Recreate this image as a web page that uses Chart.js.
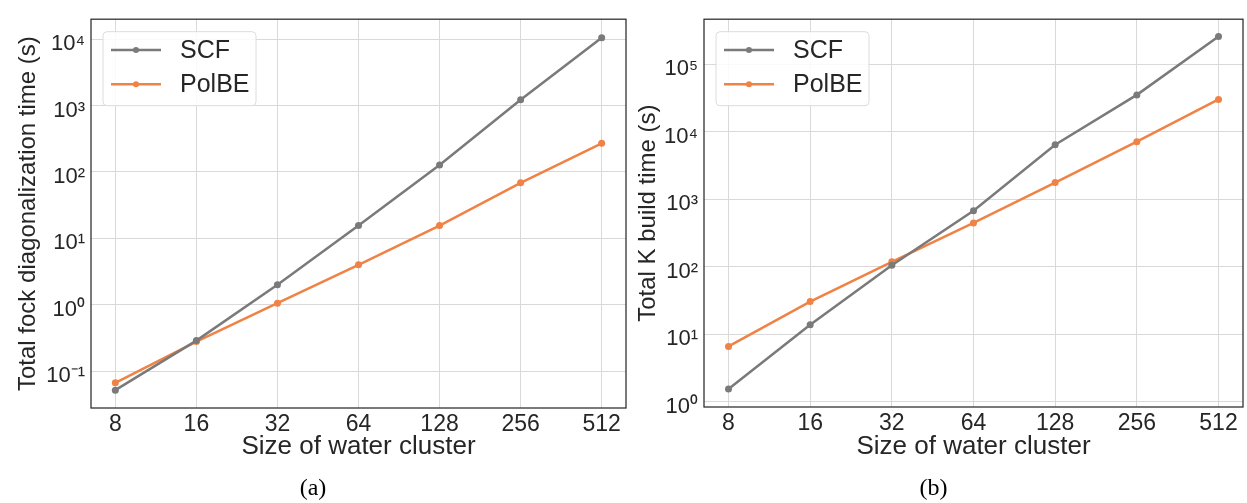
<!DOCTYPE html>
<html>
<head>
<meta charset="utf-8">
<script src="https://cdn.jsdelivr.net/npm/chart.js@4.4.1/dist/chart.umd.min.js"></script>
<style>
  html, body { margin: 0; padding: 0; background: #fff; }
  body { width: 1247px; height: 503px; position: relative; overflow: hidden; }
  .panel { position: absolute; top: 0; height: 503px; }
  #pa { left: 0; width: 640px; }
  #pb { left: 620px; width: 627px; }
</style>
</head>
<body>
<div class="panel" id="pa"><canvas id="fock"></canvas></div>
<div class="panel" id="pb"><canvas id="kbuild"></canvas></div>
<script>
// water cluster sizes (x axis, log2 spaced)
const clusterSizes = [8, 16, 32, 64, 128, 256, 512];

// (a) total fock diagonalization time (s)
const fockScf   = [0.052, 0.29, 2.0, 15.6, 127, 1216, 10500];
const fockPolbe = [0.067, 0.28, 1.06, 4.0, 15.6, 68.5, 270];
const fockTicks = [0.1, 1, 10, 100, 1000, 10000];

// (b) total K build time (s)
const kScf   = [1.55, 13.8, 105, 676, 6400, 35000, 257000];
const kPolbe = [6.6, 30.5, 118, 445, 1760, 7100, 30000];
const kTicks = [1, 10, 100, 1000, 10000, 100000];

const GRAY = '#7a7a7a';
const ORANGE = '#ef8244';
const INK = '#262626';

Chart.defaults.font.family = "'Liberation Sans', Arial, sans-serif";
Chart.defaults.color = INK;

const SUP = { '-': '\u207B', '0': '\u2070', '1': '\u00B9', '2': '\u00B2', '3': '\u00B3', '4': '\u2074', '5': '\u2075' };
function powLabel(v) {
  const e = String(Math.round(Math.log10(v)));
  return '10' + e.split('').map(c => SUP[c]).join('');
}

// frame around the plot area + boxed legend in the upper left
const framePlugin = {
  id: 'frame',
  beforeDatasetsDraw(chart) {
    const { ctx, chartArea: a } = chart;
    ctx.save();
    ctx.strokeStyle = '#2a2a2a';
    ctx.lineWidth = 1.25;
    ctx.strokeRect(a.left, a.top, a.right - a.left, a.bottom - a.top);
    ctx.restore();
  },
  afterDatasetsDraw(chart) {
    const { ctx, chartArea: a } = chart;
    const bx = a.left + 12, by = a.top + 12.5;
    ctx.save();
    ctx.beginPath();
    ctx.roundRect(bx, by, 153, 74, 4);
    ctx.fillStyle = 'rgba(255,255,255,0.85)';
    ctx.fill();
    ctx.strokeStyle = '#dcdcdc';
    ctx.lineWidth = 1;
    ctx.stroke();
    chart.data.datasets.forEach((ds, i) => {
      const y = a.top + 30.7 + i * 34.3;
      ctx.strokeStyle = ds.borderColor;
      ctx.lineWidth = 2.5;
      ctx.beginPath();
      ctx.moveTo(a.left + 20, y);
      ctx.lineTo(a.left + 70, y);
      ctx.stroke();
      ctx.fillStyle = ds.borderColor;
      ctx.beginPath();
      ctx.arc(a.left + 45, y, 3, 0, Math.PI * 2);
      ctx.fill();
      ctx.fillStyle = INK;
      ctx.font = "25px 'Liberation Sans', Arial, sans-serif";
      ctx.textBaseline = 'middle';
      ctx.textAlign = 'left';
      ctx.fillText(ds.label, a.left + 89, y + 1);
    });
    ctx.restore();
  }
};

function series(label, data, color) {
  return {
    label, data,
    borderColor: color,
    backgroundColor: color,
    borderWidth: 2.5,
    pointRadius: 3.5,
    pointBorderWidth: 0,
    pointBackgroundColor: color,
    tension: 0
  };
}

function drawPanel(id, o) {
  new Chart(document.getElementById(id), {
    type: 'line',
    data: {
      labels: clusterSizes,
      datasets: [series('SCF', o.scf, GRAY), series('PolBE', o.polbe, ORANGE)]
    },
    options: {
      responsive: true,
      maintainAspectRatio: false,
      animation: false,
      layout: { padding: { top: o.top, right: o.right, left: 0, bottom: 0 } },
      plugins: {
        legend: { display: false },
        tooltip: { enabled: false },
        title: {
          display: true, text: o.caption, position: 'bottom', padding: 0,
          color: '#000', font: { family: "'Liberation Serif', serif", size: 24, weight: 'normal' }
        }
      },
      scales: {
        x: {
          type: 'logarithmic',
          min: 8 / Math.pow(2, 0.3),
          max: 512 * Math.pow(2, 0.3),
          afterBuildTicks: s => { s.ticks = clusterSizes.map(v => ({ value: v })); },
          afterFit: s => { s.height = o.xh; },
          ticks: { callback: v => String(v), font: { size: 23 }, padding: 3, maxRotation: 0, autoSkip: false },
          grid: { color: '#d9d9d9', lineWidth: 1, drawTicks: false },
          border: { display: false },
          title: { display: true, text: 'Size of water cluster', font: { size: 26 }, padding: { top: 0, bottom: 12 } }
        },
        y: {
          type: 'logarithmic',
          min: o.ymin,
          max: o.ymax,
          afterBuildTicks: s => { s.ticks = o.ticks.map(v => ({ value: v })); },
          afterFit: s => { s.width = o.yw; },
          ticks: { callback: v => powLabel(v), font: { size: 22 }, padding: 6, labelOffset: 5, autoSkip: false },
          grid: { color: '#d9d9d9', lineWidth: 1, drawTicks: false },
          border: { display: false },
          title: { display: true, text: o.ytitle, font: { size: 24 }, padding: { top: 13.6, bottom: 0 } }
        }
      }
    },
    plugins: [framePlugin]
  });
}

drawPanel('fock', {
  scf: fockScf, polbe: fockPolbe, ticks: fockTicks,
  ymin: 0.02805, ymax: 19890,
  ytitle: 'Total fock diagonalization time (s)', caption: '(a)',
  top: 16, right: 14, yw: 91, xh: 66.2
});

drawPanel('kbuild', {
  scf: kScf, polbe: kPolbe, ticks: kTicks,
  ymin: 0.838, ymax: 462000,
  ytitle: 'Total K build time (s)', caption: '(b)',
  top: 10, right: 0, yw: 84, xh: 67.2
});
</script>
</body>
</html>
